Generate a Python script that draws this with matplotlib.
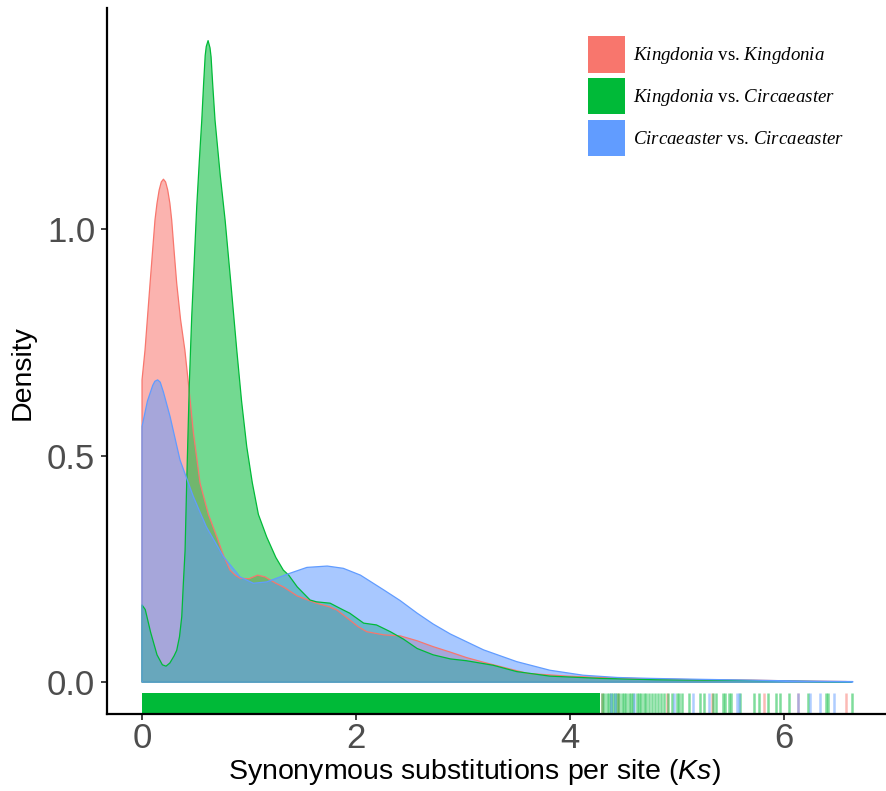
import matplotlib
matplotlib.use('Agg')
import matplotlib.pyplot as plt
from matplotlib.patches import Patch
import matplotlib.transforms as mtransforms

plt.rcParams['font.family'] = ['Liberation Sans', 'DejaVu Sans']
plt.rcParams['mathtext.fontset'] = 'custom'
plt.rcParams['mathtext.it'] = 'Liberation Serif:italic'
plt.rcParams['mathtext.rm'] = 'Liberation Serif'
plt.rcParams['mathtext.sf'] = 'Liberation Sans:italic'

# density curves (Ks, density)
kk_ks = [0.0, 0.028, 0.075, 0.121, 0.14, 0.16, 0.18, 0.20, 0.22, 0.24, 0.26, 0.277, 0.30,
         0.324, 0.36, 0.40, 0.433, 0.48, 0.542, 0.62, 0.698, 0.76, 0.822, 0.87, 0.916, 1.0,
         1.08, 1.15, 1.25, 1.32, 1.45, 1.63, 1.75, 1.82, 1.94, 2.02, 2.10, 2.26, 2.41, 2.57,
         2.72, 2.88, 3.03, 3.20, 3.35, 3.60, 3.97, 4.28, 4.7, 5.2, 5.7, 6.2, 6.58]
kk_den = [0.667, 0.733, 0.88, 1.02, 1.057, 1.086, 1.104, 1.11, 1.104, 1.086, 1.057, 1.02, 0.95,
          0.88, 0.80, 0.733, 0.66, 0.55, 0.439, 0.37, 0.321, 0.28, 0.247, 0.236, 0.229, 0.228,
          0.236, 0.232, 0.218, 0.21, 0.19, 0.174, 0.166, 0.159, 0.137, 0.122, 0.111, 0.104, 0.102, 0.091,
          0.078, 0.066, 0.054, 0.043, 0.034, 0.019, 0.013, 0.010, 0.007, 0.005, 0.004, 0.002, 0.001]

kc_ks = [0.0, 0.03, 0.08, 0.14, 0.19, 0.224, 0.26, 0.30, 0.324, 0.35, 0.371, 0.386, 0.402,
         0.417, 0.442, 0.464, 0.511, 0.535, 0.558, 0.575, 0.59, 0.60, 0.617, 0.635, 0.645,
         0.66, 0.682, 0.73, 0.776, 0.83, 0.885, 0.93, 0.978, 1.03, 1.087, 1.165, 1.25, 1.32,
         1.37, 1.45, 1.57, 1.63, 1.757, 1.88, 1.94, 2.07, 2.19, 2.32, 2.44, 2.57, 2.72, 2.88,
         3.03, 3.28, 3.50, 3.81, 4.28, 4.8, 5.3, 5.8, 6.3, 6.63]
kc_den = [0.170, 0.16, 0.11, 0.06, 0.038, 0.035, 0.042, 0.058, 0.07, 0.10, 0.144, 0.218, 0.29,
          0.438, 0.66, 0.806, 1.05, 1.15, 1.24, 1.32, 1.383, 1.403, 1.416, 1.40, 1.38,
          1.32, 1.24, 1.12, 1.02, 0.88, 0.733, 0.62, 0.52, 0.44, 0.37, 0.32, 0.275, 0.247,
          0.236, 0.21, 0.181, 0.177, 0.174, 0.159, 0.152, 0.130, 0.126, 0.111, 0.095, 0.074, 0.06, 0.051,
          0.047, 0.037, 0.023, 0.013, 0.008, 0.005, 0.004, 0.003, 0.001, 0.0005]

cc_ks = [0.0, 0.05, 0.10, 0.12, 0.146, 0.17, 0.20, 0.262, 0.355, 0.48, 0.60, 0.76, 0.916,
         1.04, 1.165, 1.38, 1.54, 1.73, 1.88, 2.04, 2.26, 2.41, 2.57, 2.72, 2.88, 3.19, 3.50,
         3.81, 4.12, 4.44, 4.75, 5.2, 5.7, 6.2, 6.64]
cc_den = [0.564, 0.62, 0.655, 0.664, 0.667, 0.662, 0.64, 0.586, 0.49, 0.409, 0.343, 0.277, 0.232,
          0.218, 0.221, 0.24, 0.253, 0.256, 0.251, 0.236, 0.203, 0.180, 0.152, 0.128, 0.106, 0.071, 0.045,
          0.026, 0.015, 0.010, 0.008, 0.006, 0.004, 0.002, 0.001]

# rug: the solid block of ticks, then the separate ticks in the tail
dense_rug = [0.0, 4.28]
kk_rug = [4.30, 4.45, 4.9, 5.32, 5.81, 6.13, 6.58]
kc_rug = [4.30, 4.32, 4.34, 4.36, 4.38, 4.40, 4.42, 4.44, 4.46, 4.48, 4.50, 4.52, 4.55,
          4.57, 4.59, 4.62, 4.64, 4.66, 4.69, 4.71, 4.74, 4.76, 4.79, 4.82, 4.85, 4.88,
          4.91, 4.95, 5.0, 5.02, 5.04, 5.11, 5.21, 5.25, 5.33, 5.36, 5.43, 5.45, 5.48,
          5.50, 5.59, 5.72, 5.76, 5.85, 5.92, 5.96, 6.04, 6.22, 6.39, 6.41, 6.63]
cc_rug = [4.38, 4.42, 4.60, 4.97, 5.15, 5.30, 5.56, 5.58, 6.13, 6.24, 6.33, 6.46]

labels = [r'$\mathit{Kingdonia}$ vs. $\mathit{Kingdonia}$',
          r'$\mathit{Kingdonia}$ vs. $\mathit{Circaeaster}$',
          r'$\mathit{Circaeaster}$ vs. $\mathit{Circaeaster}$']
colors = ['#F8766D', '#00BA38', '#619CFF']

fig = plt.figure(figsize=(8.86, 7.91), dpi=100)
ax = fig.add_axes([0.1208, 0.0973, 0.8792, 0.8926])

for xs, ys, c in zip([kk_ks, kc_ks, cc_ks], [kk_den, kc_den, cc_den], colors):
    ax.fill_between(xs, 0, ys, facecolor=c, alpha=0.55, edgecolor='none', zorder=2)
    ax.fill_between(xs, 0, ys, facecolor='none', edgecolor=c, linewidth=0.9, zorder=3)

trans = mtransforms.blended_transform_factory(ax.transData, ax.transAxes)
ax.fill_between(dense_rug, 0, 0.03, transform=trans, color=colors[1], linewidth=0, zorder=2)
for rug, c in zip([kk_rug, kc_rug, cc_rug], colors):
    ax.vlines(rug, 0, 0.03, transform=trans, colors=c, alpha=0.5, linewidth=1.8, zorder=2)

ax.set_xlim(-0.327, 6.95)
ax.set_ylim(-0.0707, 1.488)
ax.set_xticks([0, 2, 4, 6])
ax.set_yticks([0.0, 0.5, 1.0])
ax.set_yticklabels(['0.0', '0.5', '1.0'])

for s in ['top', 'right']:
    ax.spines[s].set_visible(False)
for s in ['left', 'bottom']:
    ax.spines[s].set_linewidth(1.6)
    ax.spines[s].set_color('black')
ax.tick_params(axis='both', length=4, width=1.3, color='#333333',
               labelsize=25, labelcolor='#4D4D4D', pad=2)
ax.tick_params(axis='y', pad=4.5)

ax.set_xlabel(r'Synonymous substitutions per site ($\mathsf{Ks}$)', fontsize=20.5, labelpad=1)
ax.set_ylabel('Density', fontsize=20.5, labelpad=8)
ax.xaxis.label.set_x(0.472)
ax.yaxis.label.set_y(0.484)

handles = [Patch(facecolor=c, edgecolor='none') for c in colors]
ax.legend(handles, labels, loc='upper left', bbox_to_anchor=(0.617, 0.960),
          frameon=False, borderpad=0, borderaxespad=0,
          handlelength=2.0, handleheight=2.6, handletextpad=0.38, labelspacing=0.27,
          prop={'family': 'Liberation Serif', 'size': 13.6})

fig.savefig('out.png', dpi=100)
